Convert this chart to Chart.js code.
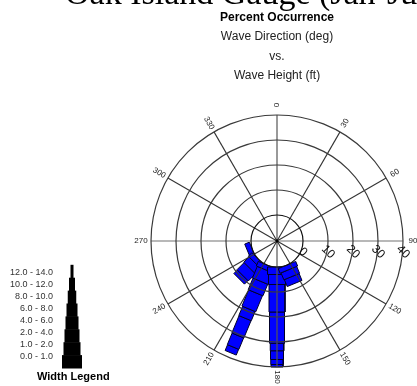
<!DOCTYPE html>
<html>
<head>
<meta charset="utf-8">
<script src="https://cdn.jsdelivr.net/npm/chart.js@4.4.0/dist/chart.umd.min.js"></script>
<style>
html, body { margin: 0; padding: 0; background: #fff; }
canvas { display: block; }
</style>
</head>
<body>
<canvas id="rose" width="417" height="386"></canvas>
<script>
// wave height classes (ft), innermost first
const heightClasses = ['0.0 - 1.0', '1.0 - 2.0', '2.0 - 4.0', '4.0 - 6.0', '6.0 - 8.0', '8.0 - 10.0', '10.0 - 12.0', '12.0 - 14.0'];

// direction bins (deg, coming from)
const directions = [0, 22.5, 45, 67.5, 90, 112.5, 135, 157.5, 180, 202.5, 225, 247.5, 270, 292.5, 315, 337.5];

// percent occurrence per height class, one value per direction bin
const h0_1   = [0, 0, 0, 0, 0, 0, 0, 2,   3,    2,   2, 2, 0, 0, 0, 0];
const h1_2   = [0, 0, 0, 0, 0, 0, 0, 3,   4,    5,   3, 0, 0, 0, 0, 0];
const h2_4   = [0, 0, 0, 0, 0, 0, 0, 3,   11,   5,   4, 0, 0, 0, 0, 0];
const h4_6   = [0, 0, 0, 0, 0, 0, 0, 0,   12.5, 7,   2, 0, 0, 0, 0, 0];
const h6_8   = [0, 0, 0, 0, 0, 0, 0, 0,   3,    4,   0, 0, 0, 0, 0, 0];
const h8_10  = [0, 0, 0, 0, 0, 0, 0, 0,   3.5,  7.5, 0, 0, 0, 0, 0, 0];
const h10_12 = [0, 0, 0, 0, 0, 0, 0, 0,   2,    5,   0, 0, 0, 0, 0, 0];
const h12_14 = [0, 0, 0, 0, 0, 0, 0, 0,   1,    2.5, 0, 0, 0, 0, 0, 0];

const ringValues = [0, 10, 20, 30, 40];
const spokeAngles = [0, 30, 60, 90, 120, 150, 180, 210, 240, 270, 300, 330];

const series = [h0_1, h1_2, h2_4, h4_6, h6_8, h8_10, h10_12, h12_14];

// styling
const HOLE = 10.4;                                   // empty centre, in percent units
const BAR_WIDTH = [7.6, 6.8, 6.4, 6.0, 5.4, 5.2, 5.0, 4.8];   // bar width per class, percent units
const LEGEND_WIDTH = [20, 17, 15, 13, 11, 8.5, 6, 3];          // px
const SANS = '"Liberation Sans", Arial, sans-serif';

function pt(v, deg, off) {
    const a = deg * Math.PI / 180;
    const r = HOLE + v;
    return { x: r * Math.sin(a) + off * Math.cos(a), y: r * Math.cos(a) - off * Math.sin(a) };
}

const datasets = [];
directions.forEach((dir, i) => {
    let base = 0;
    series.forEach((s, k) => {
        const v = s[i];
        if (!v) return;
        const hw = BAR_WIDTH[k] / 2;
        const top = base + v;
        datasets.push({
            data: [pt(base, dir, -hw), pt(top, dir, -hw), pt(top, dir, hw), pt(base, dir, hw), pt(base, dir, -hw)],
            showLine: true,
            fill: 'shape',
            backgroundColor: '#0000ff',
            borderColor: '#00002a',
            borderWidth: 1,
            pointRadius: 0,
            tension: 0
        });
        base = top;
    });
});

const roseDecor = {
    id: 'roseDecor',
    afterDatasetsDraw(chart) {
        const ctx = chart.ctx;
        const sx = chart.scales.x, sy = chart.scales.y;
        const cx = sx.getPixelForValue(0), cy = sy.getPixelForValue(0);
        const k = sx.getPixelForValue(1) - cx;
        const outer = (HOLE + ringValues[ringValues.length - 1]) * k;

        ctx.save();
        // spokes
        spokeAngles.forEach(deg => {
            const a = deg * Math.PI / 180;
            ctx.beginPath();
            ctx.moveTo(cx, cy);
            ctx.lineTo(cx + outer * Math.sin(a), cy - outer * Math.cos(a));
            if (deg === 90 || deg === 270) { ctx.strokeStyle = '#a0a0a0'; ctx.lineWidth = 1.5; }
            else if (deg === 0 || deg === 180) { ctx.strokeStyle = '#555'; ctx.lineWidth = 1.2; }
            else { ctx.strokeStyle = '#333'; ctx.lineWidth = 1.1; }
            ctx.stroke();
        });
        // rings
        ringValues.forEach((v, i) => {
            ctx.beginPath();
            ctx.arc(cx, cy, (HOLE + v) * k, 0, Math.PI * 2);
            ctx.strokeStyle = i === 0 ? '#111' : '#3a3a3a';
            ctx.lineWidth = 1.2;
            ctx.stroke();
        });
        ctx.fillStyle = '#000';
        ctx.fillRect(cx - 1.5, cy - 1.5, 3, 3);

        // direction labels
        ctx.font = '8px ' + SANS;
        ctx.fillStyle = '#222';
        ctx.textBaseline = 'middle';
        ctx.textAlign = 'center';
        spokeAngles.forEach(deg => {
            const a = deg * Math.PI / 180;
            const r = outer + 10;
            ctx.save();
            ctx.translate(cx + r * Math.sin(a), cy - r * Math.cos(a));
            ctx.rotate(((deg <= 180 ? deg - 90 : deg + 90)) * Math.PI / 180);
            ctx.fillText(String(deg), 0, 0);
            ctx.restore();
        });

        // radial value labels
        ctx.font = '12px ' + SANS;
        ctx.fillStyle = '#111';
        ringValues.forEach(v => {
            ctx.save();
            ctx.translate(cx + (HOLE + v) * k, cy + 11);
            ctx.rotate(45 * Math.PI / 180);
            ctx.fillText(String(v), 0, 0);
            ctx.restore();
        });

        // titles
        ctx.fillStyle = '#000';
        ctx.textAlign = 'left';
        ctx.textBaseline = 'alphabetic';
        ctx.font = '34px "Liberation Serif", "Times New Roman", serif';
        ctx.fillText('Oak Island Gauge (Jan-Jun', 65, 4);

        ctx.textAlign = 'center';
        ctx.textBaseline = 'middle';
        ctx.font = 'bold 12px ' + SANS;
        ctx.fillText('Percent Occurrence', cx, 18);
        ctx.font = '12px ' + SANS;
        ctx.fillStyle = '#222';
        ctx.fillText('Wave Direction (deg)', cx, 37);
        ctx.fillText('vs.', cx, 57);
        ctx.fillText('Wave Height (ft)', cx, 76);

        // width legend
        const lx = 72, lb = 368, rowH = 12.9;
        ctx.fillStyle = '#000';
        LEGEND_WIDTH.forEach((w, i) => {
            ctx.fillRect(lx - w / 2, lb - rowH * (i + 1), w, rowH + 0.5);
        });
        ctx.font = '9px ' + SANS;
        ctx.fillStyle = '#333';
        ctx.textAlign = 'right';
        heightClasses.forEach((lab, i) => {
            ctx.fillText(lab, 53, 357 - 12 * i);
        });
        ctx.font = 'bold 11px ' + SANS;
        ctx.fillStyle = '#000';
        ctx.textAlign = 'left';
        ctx.fillText('Width Legend', 37, 377);
        ctx.restore();
    }
};

new Chart(document.getElementById('rose'), {
    type: 'scatter',
    data: { datasets: datasets },
    options: {
        responsive: false,
        animation: false,
        events: [],
        layout: { padding: 0 },
        plugins: { legend: { display: false }, tooltip: { enabled: false } },
        scales: {
            x: { type: 'linear', display: false, min: -110.8, max: 56 },
            y: { type: 'linear', display: false, min: -58, max: 96.4 }
        }
    },
    plugins: [roseDecor]
});
</script>
</body>
</html>
